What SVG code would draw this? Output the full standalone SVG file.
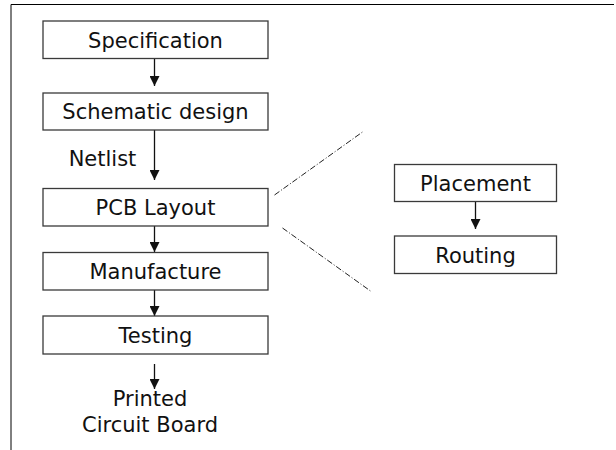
<svg xmlns="http://www.w3.org/2000/svg" width="616" height="450" viewBox="0 0 616 450">
  <style>
    .box { fill: #ffffff; stroke: #3a3a3a; stroke-width: 1.3; }
    .lbl { font-family: "DejaVu Sans", Verdana, sans-serif; font-size: 21px; fill: #111111; text-anchor: middle; }
    .flow { stroke: #111111; stroke-width: 1.3; fill: none; }
    .zoom { stroke: #222222; stroke-width: 1; fill: none; stroke-dasharray: 6 2 1 2; }
  </style>
  <defs>
    <marker id="arrow" viewBox="0 0 10 10" refX="10" refY="5" markerWidth="10" markerHeight="10" markerUnits="userSpaceOnUse" orient="auto">
      <path d="M0,0 L10,5 L0,10 Z" fill="#111111"/>
    </marker>
  </defs>
  <rect width="616" height="450" fill="#ffffff"/>
  <!-- page frame -->
  <path d="M11,450 V4.5 H614" stroke="#000000" stroke-width="1" fill="none"/>

  <!-- connectors -->
  <g id="connectors">
    <line class="flow" x1="154.5" y1="58.5" x2="154.5" y2="86" marker-end="url(#arrow)"/>
    <line class="flow" x1="154.5" y1="130" x2="154.5" y2="180" marker-end="url(#arrow)"/>
    <line class="flow" x1="154.5" y1="226" x2="154.5" y2="252" marker-end="url(#arrow)"/>
    <line class="flow" x1="154.5" y1="290" x2="154.5" y2="316" marker-end="url(#arrow)"/>
    <line class="flow" x1="154.5" y1="364" x2="154.5" y2="389" marker-end="url(#arrow)"/>
    <line class="flow" x1="475.5" y1="202" x2="475.5" y2="229" marker-end="url(#arrow)"/>
    <line class="zoom" x1="274.5" y1="195" x2="362.5" y2="132"/>
    <line class="zoom" x1="282.5" y1="228" x2="370.5" y2="291"/>
    <text class="lbl" x="102.5" y="166">Netlist</text>
  </g>

  <g id="specification">
    <rect class="box" x="43" y="21" width="225" height="37.5"/>
    <text class="lbl" x="155.5" y="47.5">Specification</text>
  </g>
  <g id="schematic">
    <rect class="box" x="43" y="93" width="225" height="37"/>
    <text class="lbl" x="155.5" y="119">Schematic design</text>
  </g>
  <g id="pcb-layout">
    <rect class="box" x="43" y="188.5" width="225" height="37.5"/>
    <text class="lbl" x="155.5" y="214.5">PCB Layout</text>
  </g>
  <g id="manufacture">
    <rect class="box" x="43" y="252.5" width="225" height="37.5"/>
    <text class="lbl" x="155.5" y="278.5">Manufacture</text>
  </g>
  <g id="testing">
    <rect class="box" x="43" y="316" width="225" height="38"/>
    <text class="lbl" x="155.5" y="342.5">Testing</text>
  </g>
  <g id="pcb-output">
    <text class="lbl" x="150" y="406">Printed</text>
    <text class="lbl" x="150" y="431.5">Circuit Board</text>
  </g>
  <g id="placement">
    <rect class="box" x="394.5" y="164.5" width="162" height="37"/>
    <text class="lbl" x="475.5" y="190.5">Placement</text>
  </g>
  <g id="routing">
    <rect class="box" x="394.5" y="236" width="162" height="37.5"/>
    <text class="lbl" x="475.5" y="262.5">Routing</text>
  </g>
</svg>
